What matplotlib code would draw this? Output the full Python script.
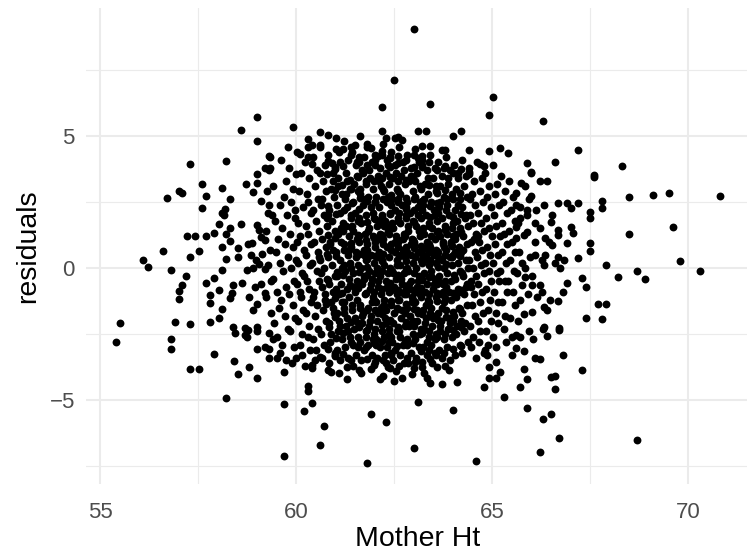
import matplotlib
matplotlib.use("Agg")
import matplotlib.pyplot as plt
from matplotlib.ticker import MultipleLocator

# points: outer / sparse region
edge_points = [
    (63.0, 9.04), (62.5, 7.11), (63.41, 6.22), (62.2, 6.09), (65.01, 6.47), (64.91, 5.81), (66.3, 5.56),
    (59.0, 5.72), (58.6, 5.23), (59.0, 4.81), (59.31, 4.25), (58.21, 4.05), (57.3, 3.94), (59.2, 3.8),
    (59.3, 3.75), (59.0, 3.56), (59.91, 5.34), (60.6, 5.15), (60.81, 5.05), (61.01, 4.94), (60.31, 4.9),
    (62.2, 5.19), (62.3, 4.94), (62.51, 4.94), (62.61, 4.96), (62.7, 4.85), (63.1, 5.19), (63.3, 5.19),
    (63.2, 4.63), (63.41, 4.63), (63.71, 4.47), (59.8, 4.58), (60.1, 4.33), (60.31, 4.6), (60.41, 4.66),
    (60.6, 4.66), (60.31, 4.2), (60.41, 3.94), (60.81, 4.05), (60.91, 3.96), (61.0, 3.83), (61.1, 4.4),
    (61.2, 4.5), (61.41, 4.6), (61.51, 4.66), (61.8, 4.7), (61.91, 4.53), (61.6, 4.22), (61.56, 4.03),
    (62.1, 4.24), (62.2, 4.28), (62.4, 4.15), (62.6, 3.99), (62.0, 3.89), (62.4, 3.81), (63.1, 4.18),
    (63.2, 4.24), (63.0, 3.84), (63.2, 3.84), (60.6, 3.59), (60.0, 3.56), (61.71, 3.6), (59.34, 4.22),
    (59.34, 3.79), (64.2, 5.19), (64.0, 5.01), (64.41, 4.48), (64.91, 4.42), (65.2, 4.55), (65.41, 4.36),
    (67.2, 4.48), (65.9, 3.99), (66.0, 3.65), (66.61, 4.0), (64.7, 3.93), (64.8, 3.88), (64.4, 3.62),
    (68.31, 3.88), (67.6, 3.52), (63.8, 4.47),
    (59.3, 3.7), (57.6, 3.18), (57.0, 2.93), (57.1, 2.84), (56.71, 2.66), (58.1, 3.02), (57.7, 2.73),
    (58.71, 3.18), (59.0, 3.22), (58.91, 2.87), (58.31, 2.6), (59.11, 2.55), (59.31, 2.39), (57.6, 2.27),
    (58.19, 2.23), (58.1, 2.07), (58.15, 2.0), (59.29, 2.07), (58.6, 1.67), (58.02, 1.67), (58.31, 1.5),
    (59.0, 1.63), (59.04, 1.44), (57.22, 1.2), (57.41, 1.2), (57.7, 1.22), (57.91, 1.33), (58.21, 1.28),
    (58.31, 1.02), (58.87, 0.96), (58.78, 0.91), (59.1, 1.19), (59.21, 1.06), (58.1, 0.81), (58.51, 0.75),
    (58.51, 0.4), (56.61, 0.63), (57.51, 0.63), (57.3, 0.43), (56.1, 0.3), (56.21, 0.03), (58.21, 0.35),
    (58.85, 0.48), (58.98, 0.31), (59.12, 0.55), (58.9, 0.02), (59.05, 0.17), (58.75, -0.08), (59.2, -0.05),
    (56.81, -0.08), (58.1, -0.08), (57.2, -0.3), (57.91, -0.39), (57.7, -0.58), (57.1, -0.64), (57.0, -0.88),
    (57.0, -1.19), (58.4, -0.64), (58.61, -0.58), (58.02, -0.83), (57.81, -1.02), (57.81, -1.34),
    (58.36, -0.96), (58.32, -1.15), (58.95, -0.7), (59.1, -0.6), (59.2, -0.95), (59.0, -1.35), (58.9, -1.6),
    (58.8, -1.1), (58.1, -1.57), (58.02, -1.9), (57.81, -2.03), (56.9, -2.03), (57.3, -2.13), (55.51, -2.08),
    (58.4, -2.22), (58.7, -2.27), (59.0, -2.22), (55.41, -2.82), (56.81, -2.68), (56.81, -3.08),
    (57.91, -3.27), (57.3, -3.84), (57.51, -3.84), (58.41, -3.52), (58.51, -4.0), (58.81, -3.75),
    (59.01, -4.17), (58.21, -4.92), (58.45, -2.45), (58.7, -2.55), (58.78, -2.35), (58.75, -2.62),
    (59.0, -2.4), (59.3, -2.45), (59.01, -3.07), (59.21, -2.98), (59.31, -3.07), (59.31, -3.42), (59.4, -2.7),
    (59.7, -3.93), (59.7, -5.14), (59.7, -7.13), (60.31, -4.47), (60.31, -4.66), (60.2, -5.42), (60.41, -5.13),
    (60.71, -5.97), (60.6, -6.72), (61.9, -5.53), (62.3, -5.85), (61.8, -7.37), (63.1, -5.08), (63.0, -6.83),
    (62.5, -4.27), (62.7, -4.15), (63.71, -4.41), (60.41, -3.67), (60.41, -3.8), (60.8, -3.85), (60.9, -3.95),
    (61.1, -3.98), (61.3, -4.2), (61.3, -3.75), (61.65, -3.98), (60.6, -3.37), (61.0, -3.35), (60.0, -3.4),
    (59.5, -3.42), (61.9, -3.84), (61.99, -3.67), (62.3, -3.6), (62.35, -3.75), (63.01, -3.8), (63.2, -3.74),
    (63.25, -3.99), (63.33, -4.18), (63.42, -4.37), (63.6, -3.75), (63.8, -3.7), (63.9, -3.85),
    (64.0, -5.38), (64.6, -7.3), (65.31, -4.89), (65.9, -5.3), (66.3, -5.73), (66.5, -5.53), (66.7, -6.44),
    (66.21, -6.96), (64.1, -4.33), (64.8, -4.51), (64.91, -4.17), (65.1, -4.17), (65.2, -3.93), (64.91, -3.75),
    (65.1, -3.55), (65.7, -4.49), (65.9, -4.19), (65.8, -3.84), (66.5, -4.13), (66.61, -4.08), (66.61, -4.58),
    (67.3, -3.85), (66.81, -3.3), (66.1, -3.4), (66.22, -3.46), (65.5, -3.3), (65.8, -3.14), (65.6, -3.04),
    (66.3, -2.31), (66.4, -2.58), (66.7, -2.35), (65.5, -2.6), (65.6, -2.55), (65.7, -2.62), (64.82, -3.1),
    (68.69, -6.5),
    (64.4, 3.58), (66.0, 3.61), (67.61, 3.46), (66.21, 3.31), (66.41, 3.31), (65.74, 3.23), (65.84, 3.1),
    (65.6, 2.85), (66.0, 2.73), (66.69, 2.45), (66.9, 2.45), (67.0, 2.26), (67.2, 2.48), (67.8, 2.55),
    (67.8, 2.26), (67.5, 2.13), (67.5, 1.9), (65.61, 2.39), (65.71, 2.32), (65.88, 2.2), (66.5, 1.75),
    (66.1, 1.69), (66.22, 1.5), (65.67, 1.72), (65.61, 1.56), (65.89, 1.38), (65.8, 1.25), (65.62, 1.12),
    (66.69, 1.44), (66.69, 1.25), (67.0, 1.56), (67.07, 1.31), (66.1, 1.0), (66.35, 1.12), (66.44, 1.0),
    (66.52, 0.87), (66.9, 0.93), (67.5, 0.93), (67.5, 0.64), (67.2, 0.39), (67.91, 0.1), (68.2, -0.35),
    (67.3, -0.37), (67.4, -0.73), (66.69, 0.43), (66.61, 0.18), (66.73, -0.01), (66.82, 0.3), (66.9, -0.58),
    (66.8, -0.9), (66.69, -1.24), (67.7, -1.38), (67.91, -1.38), (67.4, -1.91), (67.8, -1.93), (66.31, -1.49),
    (66.4, -1.59), (66.01, -1.65), (65.82, -1.74), (66.31, -2.22), (66.71, -2.28), (66.27, 0.3), (66.31, 0.11),
    (66.35, 0.49), (66.01, -0.3), (65.84, -0.33), (66.22, -0.64), (66.01, -0.64), (65.76, -0.64),
    (68.5, 2.68), (69.1, 2.75), (69.51, 2.83), (70.8, 2.73), (68.5, 1.29), (69.6, 1.56), (69.8, 0.28),
    (70.31, -0.1), (68.7, -0.13), (68.9, -0.43),
]

# points: dense middle, roughly column by column
core_points = [
    (59.25, 2.9), (59.38, 2.0), (59.22, 1.4), (59.33, 0.7), (59.27, 0.1), (59.36, -0.5), (59.24, -1.1), (59.35, -1.7),
    (59.42, 3.1), (59.58, 2.4), (59.45, 1.8), (59.55, 1.1), (59.48, 0.6), (59.6, 0.2), (59.41, -0.4), (59.52, -0.9),
    (59.57, -1.5), (59.44, -2.1), (59.5, -2.6), (59.59, -3.2),
    (59.62, 4.1), (59.73, 3.3), (59.68, 2.7), (59.77, 2.0), (59.64, 1.5), (59.71, 0.9), (59.79, 0.4), (59.66, -0.1),
    (59.75, -0.7), (59.61, -1.2), (59.72, -1.8), (59.78, -2.3), (59.65, -2.9), (59.74, -3.5),
    (59.82, 3.8), (59.93, 3.0), (59.88, 2.5), (59.97, 1.9), (59.84, 1.3), (59.91, 0.8), (59.99, 0.3), (59.86, 0.0),
    (59.95, -0.5), (59.81, -1.0), (59.92, -1.4), (59.98, -1.9), (59.85, -2.4), (59.94, -3.0), (59.89, -3.6), (59.96, 2.2),
    (60.02, 4.4), (60.13, 3.6), (60.08, 2.9), (60.17, 2.3), (60.04, 1.7), (60.11, 1.2), (60.19, 0.7), (60.06, 0.2),
    (60.15, -0.2), (60.01, -0.6), (60.12, -1.1), (60.18, -1.6), (60.05, -2.0), (60.14, -2.5), (60.09, -2.9),
    (60.16, -3.3), (60.03, 1.0), (60.1, -0.9),
    (60.22, 4.0), (60.33, 3.4), (60.28, 2.8), (60.37, 2.1), (60.24, 1.6), (60.31, 1.3), (60.39, 0.9), (60.26, 0.5),
    (60.35, 0.1), (60.21, -0.3), (60.32, -0.8), (60.38, -1.3), (60.25, -1.7), (60.34, -2.2), (60.29, -2.6),
    (60.36, -3.1), (60.23, -3.7), (60.3, 2.5), (60.27, -0.5),
    (60.42, 4.2), (60.53, 3.7), (60.48, 3.1), (60.57, 2.6), (60.44, 2.2), (60.51, 1.8), (60.59, 1.4), (60.46, 1.0),
    (60.55, 0.6), (60.41, 0.2), (60.52, -0.1), (60.58, -0.5), (60.45, -0.9), (60.54, -1.4), (60.49, -1.8),
    (60.56, -2.3), (60.43, -2.7), (60.5, -3.1), (60.47, -3.5), (60.58, 0.4), (60.44, -1.1),
    (60.62, 4.6), (60.73, 3.9), (60.68, 3.3), (60.77, 2.9), (60.64, 2.4), (60.71, 2.0), (60.79, 1.6), (60.66, 1.1),
    (60.75, 0.8), (60.61, 0.3), (60.72, 0.0), (60.78, -0.4), (60.65, -0.7), (60.74, -1.2), (60.69, -1.6),
    (60.76, -2.0), (60.63, -2.5), (60.7, -2.9), (60.67, -3.4), (60.78, 1.9), (60.64, -0.2), (60.73, -1.0), (60.66, 2.6),
    (60.82, 4.3), (60.93, 3.6), (60.88, 3.0), (60.97, 2.7), (60.84, 2.2), (60.91, 1.8), (60.99, 1.4), (60.86, 1.0),
    (60.95, 0.7), (60.81, 0.4), (60.92, 0.1), (60.98, -0.3), (60.85, -0.6), (60.94, -0.9), (60.89, -1.3),
    (60.96, -1.7), (60.83, -2.1), (60.9, -2.5), (60.87, -2.8), (60.98, -3.2), (60.84, -3.6), (60.93, 3.3),
    (60.86, 0.9), (60.95, -1.5), (60.81, 2.0),
    (61.02, 4.5), (61.13, 4.0), (61.08, 3.4), (61.17, 2.8), (61.04, 2.4), (61.11, 2.1), (61.19, 1.7), (61.06, 1.3),
    (61.15, 1.0), (61.01, 0.6), (61.12, 0.3), (61.18, 0.0), (61.05, -0.3), (61.14, -0.6), (61.09, -1.0),
    (61.16, -1.3), (61.03, -1.7), (61.1, -2.0), (61.07, -2.4), (61.18, -2.7), (61.04, -3.1), (61.13, -3.5),
    (61.06, 3.1), (61.15, 1.5), (61.01, -0.8), (61.12, -2.2),
    (61.22, 4.8), (61.33, 4.1), (61.28, 3.6), (61.37, 3.0), (61.24, 2.6), (61.31, 2.3), (61.39, 1.9), (61.26, 1.6),
    (61.35, 1.2), (61.21, 0.9), (61.32, 0.5), (61.38, 0.2), (61.25, -0.1), (61.34, -0.4), (61.29, -0.8),
    (61.36, -1.1), (61.23, -1.5), (61.3, -1.9), (61.27, -2.2), (61.38, -2.6), (61.24, -3.0), (61.33, -3.4),
    (61.26, 2.8), (61.35, 0.7), (61.21, -1.3), (61.32, -2.4), (61.29, 3.3),
    (61.42, 4.4), (61.53, 3.9), (61.48, 3.2), (61.57, 2.9), (61.44, 2.5), (61.51, 2.1), (61.59, 1.8), (61.46, 1.4),
    (61.55, 1.1), (61.41, 0.8), (61.52, 0.4), (61.58, 0.1), (61.45, -0.2), (61.54, -0.5), (61.49, -0.9),
    (61.56, -1.2), (61.43, -1.6), (61.5, -1.9), (61.47, -2.3), (61.58, -2.6), (61.44, -2.9), (61.53, -3.3),
    (61.46, -3.7), (61.55, 3.5), (61.41, 2.0), (61.52, 0.6), (61.48, -0.7), (61.57, -2.1), (61.43, 1.6),
    (61.62, 5.0), (61.73, 4.2), (61.68, 3.7), (61.77, 3.3), (61.64, 2.8), (61.71, 2.4), (61.79, 2.0), (61.66, 1.7),
    (61.75, 1.3), (61.61, 1.0), (61.72, 0.7), (61.78, 0.3), (61.65, 0.0), (61.74, -0.3), (61.69, -0.6),
    (61.76, -1.0), (61.63, -1.4), (61.7, -1.7), (61.67, -2.1), (61.78, -2.4), (61.64, -2.8), (61.73, -3.1),
    (61.66, -3.5), (61.75, 2.6), (61.61, 1.2), (61.72, -0.4), (61.68, -1.8), (61.77, -2.6), (61.63, 3.0), (61.74, 0.5),
    (61.82, 4.6), (61.93, 4.0), (61.88, 3.4), (61.97, 3.0), (61.84, 2.7), (61.91, 2.3), (61.99, 1.9), (61.86, 1.5),
    (61.95, 1.2), (61.81, 0.9), (61.92, 0.5), (61.98, 0.2), (61.85, -0.1), (61.94, -0.4), (61.89, -0.8),
    (61.96, -1.1), (61.83, -1.5), (61.9, -1.8), (61.87, -2.2), (61.98, -2.5), (61.84, -2.9), (61.93, -3.3),
    (61.86, 3.7), (61.95, 2.1), (61.81, 0.7), (61.92, -0.6), (61.88, -2.0), (61.97, -2.7), (61.83, 1.4), (61.94, -1.3),
    (62.02, 4.3), (62.13, 3.8), (62.08, 3.5), (62.17, 3.1), (62.04, 2.7), (62.11, 2.3), (62.19, 2.0), (62.06, 1.6),
    (62.15, 1.3), (62.01, 1.0), (62.12, 0.6), (62.18, 0.3), (62.05, 0.0), (62.14, -0.3), (62.09, -0.7),
    (62.16, -1.0), (62.03, -1.3), (62.1, -1.7), (62.07, -2.0), (62.18, -2.4), (62.04, -2.7), (62.13, -3.0),
    (62.06, -3.4), (62.15, -4.2), (62.01, 2.5), (62.12, 1.1), (62.08, -0.5), (62.17, -1.5), (62.03, -2.9),
    (62.14, 1.8), (62.05, 0.4), (62.11, 3.3),
    (62.22, 4.7), (62.33, 4.1), (62.28, 3.6), (62.37, 3.2), (62.24, 2.9), (62.31, 2.5), (62.39, 2.1), (62.26, 1.8),
    (62.35, 1.4), (62.21, 1.1), (62.32, 0.8), (62.38, 0.4), (62.25, 0.1), (62.34, -0.2), (62.29, -0.5),
    (62.36, -0.9), (62.23, -1.2), (62.3, -1.6), (62.27, -1.9), (62.38, -2.3), (62.24, -2.6), (62.33, -3.0),
    (62.26, -3.3), (62.22, -4.1), (62.35, 2.7), (62.21, 0.9), (62.32, -0.7), (62.28, -2.1), (62.37, -2.8),
    (62.23, 1.6), (62.34, 3.9), (62.25, -1.4),
    (62.42, 4.4), (62.53, 3.9), (62.48, 3.4), (62.57, 3.0), (62.44, 2.6), (62.51, 2.2), (62.59, 1.9), (62.46, 1.5),
    (62.55, 1.2), (62.41, 0.9), (62.52, 0.6), (62.58, 0.3), (62.45, -0.1), (62.54, -0.4), (62.49, -0.7),
    (62.56, -1.0), (62.43, -1.4), (62.5, -1.7), (62.47, -2.1), (62.58, -2.4), (62.44, -2.8), (62.53, -3.1),
    (62.46, -3.5), (62.55, -3.9), (62.41, 2.4), (62.52, 1.0), (62.48, -0.2), (62.57, -1.5), (62.43, -2.6),
    (62.54, 3.6), (62.45, 1.7), (62.56, 0.1), (62.42, -3.3),
    (62.62, 4.6), (62.73, 4.0), (62.68, 3.5), (62.77, 3.2), (62.64, 2.8), (62.71, 2.4), (62.79, 2.0), (62.66, 1.7),
    (62.75, 1.3), (62.61, 1.0), (62.72, 0.7), (62.78, 0.4), (62.65, 0.1), (62.74, -0.2), (62.69, -0.6),
    (62.76, -0.9), (62.63, -1.2), (62.7, -1.6), (62.67, -1.9), (62.78, -2.2), (62.64, -2.6), (62.73, -2.9),
    (62.66, -3.3), (62.75, -3.6), (62.61, 2.6), (62.72, 1.1), (62.68, -0.4), (62.77, -1.7), (62.63, -2.4),
    (62.74, 3.7), (62.65, 0.5), (62.76, -1.0), (62.62, 2.1),
    (62.82, 4.3), (62.93, 3.8), (62.88, 3.3), (62.97, 2.9), (62.84, 2.5), (62.91, 2.1), (62.99, 1.8), (62.86, 1.4),
    (62.95, 1.1), (62.81, 0.8), (62.92, 0.5), (62.98, 0.2), (62.85, -0.1), (62.94, -0.5), (62.89, -0.8),
    (62.96, -1.1), (62.83, -1.5), (62.9, -1.8), (62.87, -2.2), (62.98, -2.5), (62.84, -2.9), (62.93, -3.2),
    (62.86, -3.6), (62.95, -4.0), (62.81, 2.3), (62.92, 0.9), (62.88, -0.6), (62.97, -2.0), (62.83, -2.7),
    (62.94, 3.5), (62.85, 1.6), (62.96, -1.3), (62.82, 0.0),
    (63.02, 4.5), (63.13, 4.0), (63.08, 3.6), (63.17, 3.1), (63.04, 2.7), (63.11, 2.3), (63.19, 1.9), (63.06, 1.6),
    (63.15, 1.2), (63.01, 0.9), (63.12, 0.6), (63.18, 0.3), (63.05, 0.0), (63.14, -0.3), (63.09, -0.7),
    (63.16, -1.0), (63.03, -1.3), (63.1, -1.7), (63.07, -2.0), (63.18, -2.3), (63.04, -2.7), (63.13, -3.0),
    (63.06, -3.4), (63.15, 2.5), (63.01, 1.0), (63.12, -0.5), (63.08, -1.6), (63.17, -2.5), (63.03, 3.3),
    (63.14, 1.4), (63.05, -0.9), (63.11, 2.0),
    (63.22, 4.1), (63.33, 3.7), (63.28, 3.2), (63.37, 2.8), (63.24, 2.4), (63.31, 2.0), (63.39, 1.7), (63.26, 1.3),
    (63.35, 1.0), (63.21, 0.7), (63.32, 0.4), (63.38, 0.1), (63.25, -0.2), (63.34, -0.6), (63.29, -0.9),
    (63.36, -1.2), (63.23, -1.6), (63.3, -1.9), (63.27, -2.3), (63.38, -2.6), (63.24, -3.0), (63.33, -3.3),
    (63.26, 2.6), (63.35, 0.8), (63.21, -0.4), (63.32, -1.4), (63.28, -2.1), (63.37, 3.4), (63.23, 1.5),
    (63.34, -2.8), (63.25, 0.3),
    (63.42, 4.3), (63.53, 3.8), (63.48, 3.4), (63.57, 2.9), (63.44, 2.5), (63.51, 2.2), (63.59, 1.8), (63.46, 1.5),
    (63.55, 1.1), (63.41, 0.8), (63.52, 0.5), (63.58, 0.2), (63.45, -0.1), (63.54, -0.4), (63.49, -0.8),
    (63.56, -1.1), (63.43, -1.5), (63.5, -1.8), (63.47, -2.2), (63.58, -2.5), (63.44, -2.9), (63.53, -3.2),
    (63.46, -3.6), (63.55, 2.0), (63.41, 0.6), (63.52, -0.6), (63.48, -1.9), (63.57, 3.1), (63.43, 1.2),
    (63.54, -2.7), (63.45, -0.3),
    (63.62, 4.0), (63.73, 3.5), (63.68, 3.1), (63.77, 2.7), (63.64, 2.3), (63.71, 1.9), (63.79, 1.6), (63.66, 1.2),
    (63.75, 0.9), (63.61, 0.6), (63.72, 0.3), (63.78, 0.0), (63.65, -0.3), (63.74, -0.6), (63.69, -1.0),
    (63.76, -1.3), (63.63, -1.7), (63.7, -2.0), (63.67, -2.4), (63.78, -2.7), (63.64, -3.1), (63.73, -3.4),
    (63.66, 2.5), (63.75, 1.0), (63.61, -0.5), (63.72, -1.5), (63.68, -2.2), (63.77, 3.8), (63.63, 1.4), (63.74, -0.9),
    (63.82, 4.2), (63.93, 3.7), (63.88, 3.2), (63.97, 2.8), (63.84, 2.4), (63.91, 2.0), (63.99, 1.7), (63.86, 1.3),
    (63.95, 1.0), (63.81, 0.7), (63.92, 0.4), (63.98, 0.1), (63.85, -0.2), (63.94, -0.5), (63.89, -0.9),
    (63.96, -1.2), (63.83, -1.6), (63.9, -1.9), (63.87, -2.3), (63.98, -2.6), (63.84, -3.0), (63.93, -3.5),
    (63.86, 2.6), (63.95, 0.9), (63.81, -0.7), (63.92, -2.1), (63.88, 3.4), (63.97, 1.5),
    (64.02, 3.9), (64.13, 3.4), (64.08, 3.0), (64.17, 2.6), (64.04, 2.2), (64.11, 1.8), (64.19, 1.5), (64.06, 1.1),
    (64.15, 0.8), (64.01, 0.5), (64.12, 0.2), (64.18, -0.1), (64.05, -0.4), (64.14, -0.8), (64.09, -1.1),
    (64.16, -1.5), (64.03, -1.8), (64.1, -2.2), (64.07, -2.5), (64.18, -2.9), (64.04, -3.3), (64.13, 2.4),
    (64.06, 0.6), (64.15, -0.9), (64.01, -2.0), (64.12, 3.6), (64.08, 1.3),
    (64.22, 4.1), (64.33, 3.5), (64.28, 3.1), (64.37, 2.7), (64.24, 2.3), (64.31, 1.9), (64.39, 1.6), (64.26, 1.2),
    (64.35, 0.9), (64.21, 0.6), (64.32, 0.3), (64.38, 0.0), (64.25, -0.3), (64.34, -0.7), (64.29, -1.0),
    (64.36, -1.4), (64.23, -1.7), (64.3, -2.1), (64.27, -2.4), (64.38, -2.8), (64.24, -3.2), (64.33, 2.0),
    (64.26, 0.7), (64.35, -0.6), (64.21, -2.0),
    (64.42, 3.8), (64.53, 3.3), (64.48, 2.8), (64.57, 2.4), (64.44, 2.0), (64.51, 1.7), (64.59, 1.3), (64.46, 1.0),
    (64.55, 0.6), (64.41, 0.3), (64.52, 0.0), (64.58, -0.3), (64.45, -0.7), (64.54, -1.0), (64.49, -1.4),
    (64.56, -1.8), (64.43, -2.2), (64.5, -2.6), (64.47, -3.0), (64.58, -3.4), (64.44, 2.6), (64.53, 1.1), (64.46, -0.5),
    (64.62, 4.0), (64.73, 3.4), (64.68, 2.9), (64.77, 2.5), (64.64, 2.1), (64.71, 1.7), (64.79, 1.4), (64.66, 1.0),
    (64.75, 0.7), (64.61, 0.4), (64.72, 0.1), (64.78, -0.2), (64.65, -0.6), (64.74, -0.9), (64.69, -1.3),
    (64.76, -1.7), (64.63, -2.0), (64.7, -2.4), (64.67, -2.8), (64.78, -3.2), (64.64, 1.2),
    (64.82, 3.6), (64.93, 3.1), (64.88, 2.7), (64.97, 2.3), (64.84, 1.9), (64.91, 1.5), (64.99, 1.2), (64.86, 0.8),
    (64.95, 0.5), (64.81, 0.2), (64.92, -0.1), (64.98, -0.5), (64.85, -0.8), (64.94, -1.2), (64.89, -1.6),
    (64.96, -2.0), (64.83, -2.4), (64.9, -2.9), (64.87, -3.3),
    (65.02, 3.9), (65.13, 3.2), (65.08, 2.8), (65.17, 2.4), (65.04, 2.0), (65.11, 1.6), (65.19, 1.2), (65.06, 0.9),
    (65.15, 0.5), (65.01, 0.2), (65.12, -0.2), (65.18, -0.5), (65.05, -0.9), (65.14, -1.3), (65.09, -1.7),
    (65.16, -2.1), (65.03, -2.6), (65.1, -3.0),
    (65.22, 3.5), (65.33, 2.9), (65.28, 2.5), (65.37, 2.1), (65.24, 1.7), (65.31, 1.3), (65.39, 0.9), (65.26, 0.6),
    (65.35, 0.2), (65.21, -0.1), (65.32, -0.5), (65.38, -0.9), (65.25, -1.3), (65.34, -1.8), (65.29, -2.3), (65.36, -2.8),
    (65.42, 3.3), (65.53, 2.7), (65.48, 2.2), (65.57, 1.8), (65.44, 1.4), (65.51, 1.0), (65.59, 0.6), (65.46, 0.3),
    (65.55, -0.1), (65.41, -0.5), (65.52, -0.9), (65.58, -1.4), (65.45, -1.9),
    (65.72, 1.9), (65.68, 0.6), (65.77, 0.2), (65.64, -0.2), (65.71, -1.2), (65.66, -2.0),
    (65.93, 2.6), (65.88, 2.0), (65.97, 0.4), (65.84, 0.0), (65.91, -1.0), (65.95, -2.4),
    (66.12, 2.2), (66.08, 0.5), (66.15, -1.1), (66.05, -2.7), (66.33, 2.4), (66.28, -0.9), (66.52, 2.0), (66.48, -1.2),
]

# more points filling the darkest part of the cloud
middle_points = [
    (60.78, 3.55), (60.82, 2.35), (60.8, 1.25), (60.79, 0.55), (60.81, -0.45), (60.77, -1.35), (60.83, -2.25), (60.8, -3.05),
    (61.0, 3.75), (60.98, 2.95), (61.02, 2.05), (60.99, 1.15), (61.01, 0.45), (61.03, -0.15), (60.98, -1.15),
    (61.0, -1.85), (61.02, -2.65), (60.99, -3.3),
    (61.2, 3.85), (61.18, 3.15), (61.21, 2.2), (61.19, 1.4), (61.22, 0.7), (61.2, -0.25), (61.18, -0.95),
    (61.21, -1.7), (61.2, -2.45), (61.19, -3.25), (61.22, 0.1),
    (61.4, 4.3), (61.38, 3.35), (61.42, 2.45), (61.4, 1.55), (61.39, 0.95), (61.41, 0.0), (61.38, -0.65),
    (61.42, -1.4), (61.4, -2.05), (61.39, -2.8), (61.41, -3.5), (61.4, 3.0),
    (61.6, 4.0), (61.58, 3.45), (61.62, 2.65), (61.6, 1.9), (61.59, 1.25), (61.61, 0.55), (61.6, -0.15),
    (61.58, -0.75), (61.62, -1.5), (61.6, -2.25), (61.59, -3.0), (61.61, -3.85), (61.6, 2.25),
    (61.8, 3.9), (61.79, 3.2), (61.81, 2.55), (61.8, 1.75), (61.78, 1.05), (61.82, 0.35), (61.8, -0.25),
    (61.79, -0.95), (61.81, -1.6), (61.8, -2.35), (61.78, -3.0), (61.82, -3.45), (61.8, 0.05),
    (62.0, 4.1), (61.99, 3.3), (62.01, 2.5), (62.0, 1.85), (61.98, 1.15), (62.02, 0.45), (62.0, -0.2),
    (61.99, -0.9), (62.01, -1.6), (62.0, -2.3), (61.98, -2.85), (62.02, -3.55), (62.0, 0.8), (62.01, -1.25),
    (62.2, 4.45), (62.19, 3.4), (62.21, 2.6), (62.2, 1.95), (62.18, 1.25), (62.22, 0.55), (62.2, -0.1),
    (62.19, -0.8), (62.21, -1.45), (62.2, -2.15), (62.18, -2.75), (62.22, -3.5), (62.2, 0.25), (62.19, -1.75), (62.21, 3.0),
    (62.4, 4.2), (62.39, 3.45), (62.41, 2.75), (62.4, 2.05), (62.38, 1.3), (62.42, 0.7), (62.4, 0.0),
    (62.39, -0.55), (62.41, -1.25), (62.4, -1.95), (62.38, -2.5), (62.42, -3.2), (62.4, -3.8), (62.39, 1.6), (62.41, -0.85),
    (62.6, 4.25), (62.59, 3.3), (62.61, 2.5), (62.6, 1.8), (62.58, 1.1), (62.62, 0.45), (62.6, -0.25),
    (62.59, -0.85), (62.61, -1.55), (62.6, -2.25), (62.58, -2.95), (62.62, -3.7), (62.6, 0.8), (62.59, -1.2), (62.61, 2.9),
    (62.8, 4.1), (62.79, 3.35), (62.81, 2.65), (62.8, 1.9), (62.78, 1.2), (62.82, 0.6), (62.8, -0.05),
    (62.79, -0.7), (62.81, -1.35), (62.8, -2.05), (62.78, -2.75), (62.82, -3.4), (62.8, 0.25), (62.79, -1.0), (62.81, 2.25),
    (63.0, 4.3), (62.99, 3.45), (63.01, 2.6), (63.0, 1.75), (62.98, 1.05), (63.02, 0.4), (63.0, -0.2),
    (62.99, -0.85), (63.01, -1.55), (63.0, -2.2), (62.98, -2.85), (63.02, -3.55), (63.0, 0.75), (62.99, -1.2), (63.01, 2.2),
    (63.2, 3.9), (63.19, 3.0), (63.21, 2.2), (63.2, 1.45), (63.18, 0.85), (63.22, 0.2), (63.2, -0.45),
    (63.19, -1.1), (63.21, -1.75), (63.2, -2.45), (63.18, -3.15), (63.22, -3.55), (63.2, 0.55), (63.19, -0.75), (63.21, 2.55),
    (63.4, 4.0), (63.39, 3.15), (63.41, 2.35), (63.4, 1.6), (63.38, 0.9), (63.42, 0.3), (63.4, -0.35),
    (63.39, -1.0), (63.41, -1.7), (63.4, -2.4), (63.38, -3.1), (63.42, -3.45), (63.4, 0.6), (63.39, -1.3), (63.41, 1.95),
    (63.6, 3.7), (63.59, 2.85), (63.61, 2.1), (63.6, 1.35), (63.58, 0.7), (63.62, 0.05), (63.6, -0.6),
    (63.59, -1.25), (63.61, -1.95), (63.6, -2.6), (63.58, -3.3), (63.62, 0.4), (63.6, -0.95), (63.59, 2.45),
    (63.8, 3.85), (63.79, 2.95), (63.81, 2.2), (63.8, 1.45), (63.78, 0.8), (63.82, 0.15), (63.8, -0.5),
    (63.79, -1.15), (63.81, -1.85), (63.8, -2.5), (63.78, -3.2), (63.8, 0.5), (63.81, -0.85),
    (64.0, 3.6), (63.99, 2.6), (64.01, 1.95), (64.0, 1.2), (63.98, 0.4), (64.02, -0.25), (64.0, -0.95),
    (63.99, -1.65), (64.01, -2.35), (64.0, -3.05), (63.98, 0.85),
    (64.2, 3.75), (64.19, 2.85), (64.21, 2.05), (64.2, 1.35), (64.18, 0.45), (64.22, -0.2), (64.2, -0.85),
    (64.19, -1.55), (64.21, -2.25), (64.2, -2.95),
]

points = edge_points + core_points + middle_points
mother_ht = [p[0] for p in points]
residuals = [p[1] for p in points]

plt.rcParams["font.family"] = ["Liberation Sans", "DejaVu Sans"]

fig = plt.figure(figsize=(7.47, 5.52), dpi=100)
ax = fig.add_axes([86 / 747, 68 / 552, 661 / 747, 476 / 552])

ax.scatter(mother_ht, residuals, s=32, color="black", linewidths=0, zorder=3)

ax.set_xlim(54.64, 71.5)
ax.set_ylim(-8.18, 9.85)

ax.xaxis.set_major_locator(MultipleLocator(5))
ax.xaxis.set_minor_locator(MultipleLocator(2.5))
ax.yaxis.set_major_locator(MultipleLocator(5))
ax.yaxis.set_minor_locator(MultipleLocator(2.5))

ax.grid(which="major", color="#EBEBEB", linewidth=1.45)
ax.grid(which="minor", color="#EBEBEB", linewidth=0.8)
ax.set_axisbelow(True)
for side in ax.spines.values():
    side.set_visible(False)

ax.tick_params(which="both", length=0)
ax.tick_params(axis="x", labelsize=16, labelcolor="#4D4D4D", pad=13)
ax.tick_params(axis="y", labelsize=16, labelcolor="#4D4D4D", pad=8)

fig.text(418 / 747, 6 / 552, "Mother Ht", fontsize=20.5, ha="center", va="baseline")
fig.text(28 / 747, 306 / 552, "residuals", fontsize=20.5, ha="center", va="center", rotation=90)

fig.savefig("out.png", dpi=100)
